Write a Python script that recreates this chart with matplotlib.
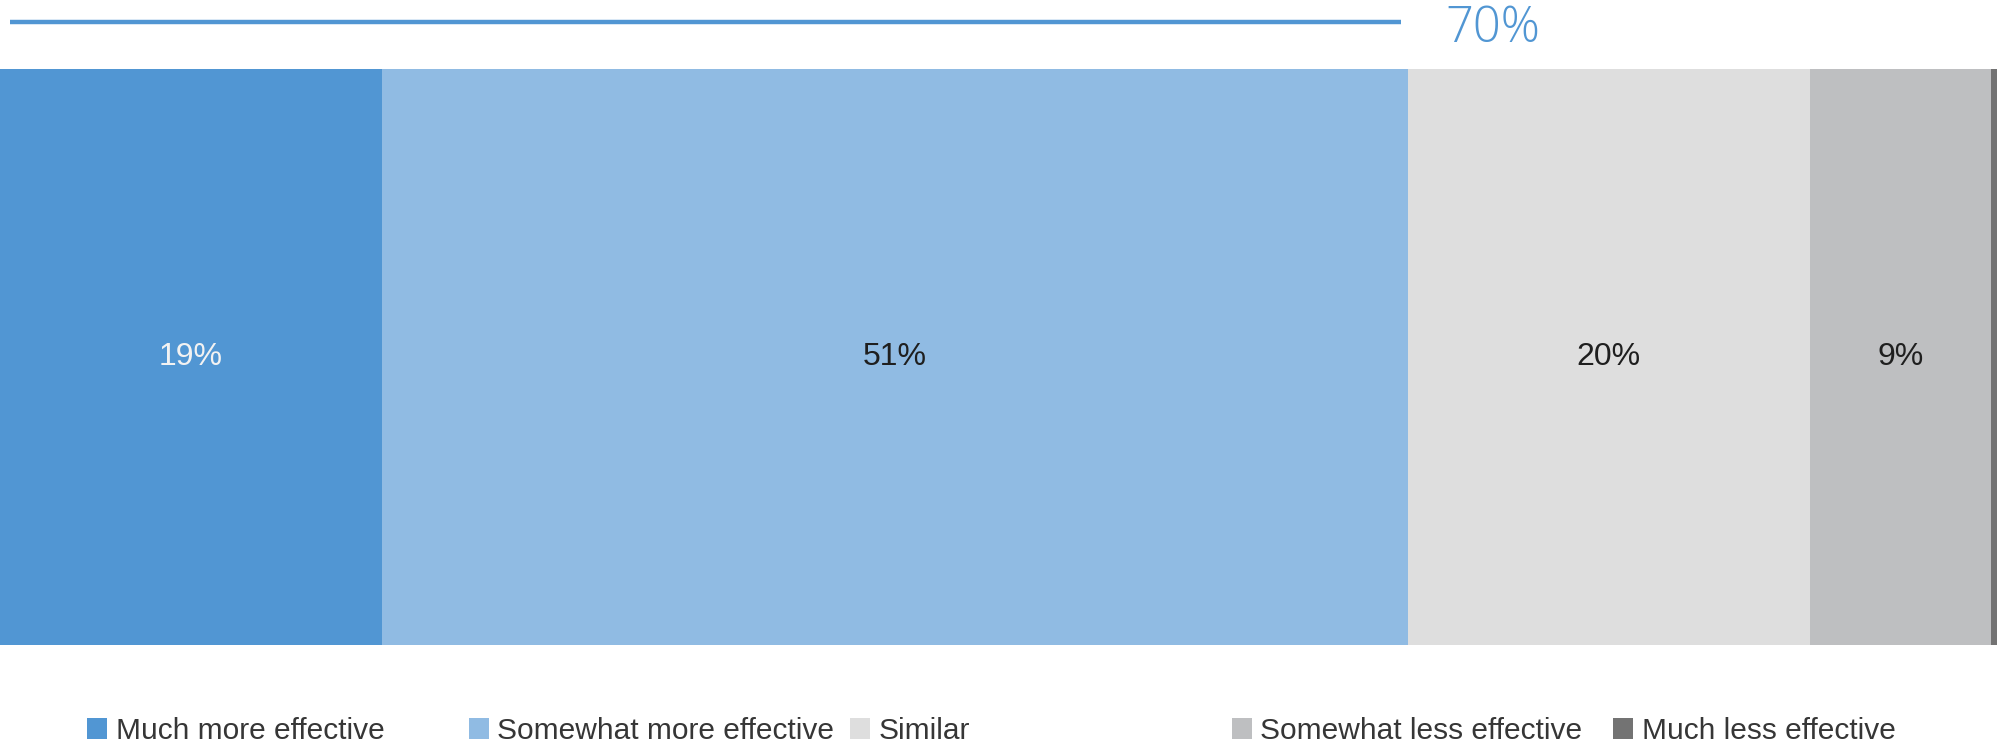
import matplotlib
matplotlib.use("Agg")
import matplotlib.pyplot as plt
from matplotlib.patches import Patch
from matplotlib.transforms import blended_transform_factory

# Survey responses (share of respondents, %)
categories = [
    "Much more effective",
    "Somewhat more effective",
    "Similar",
    "Somewhat less effective",
    "Much less effective",
]
values = [19, 51, 20, 9, 1]
value_labels = ["19%", "51%", "20%", "9%", ""]
colors = ["#5196d3", "#90bbe3", "#dedede", "#bebfc1", "#737373"]
label_colors = ["#f2f2f2", "#1f1f1f", "#1f1f1f", "#1f1f1f", "#1f1f1f"]

W, H = 1997, 745
fig = plt.figure(figsize=(W / 100, H / 100), dpi=100)
ax = fig.add_axes([0, (H - 645) / H, 1, 576 / H])

left = 0
for val, col, lab, lcol in zip(values, colors, value_labels, label_colors):
    ax.barh(0, val, left=left, height=1.0, color=col, edgecolor="none")
    if lab:
        ax.text(left + val / 2, 0, lab, ha="center", va="center",
                fontsize=23, color=lcol, family="Liberation Sans")
    left += val

ax.set_xlim(0, 99.3)
ax.set_ylim(-0.5, 0.5)
ax.axis("off")

# Bracket line showing the combined "more effective" share
more_total = values[0] + values[1]
trans = blended_transform_factory(ax.transData, fig.transFigure)
ax.plot([0.5, more_total - 0.35], [1 - 21.5 / H, 1 - 21.5 / H], color="#5196d3",
        lw=3.2, solid_capstyle="butt", transform=trans, clip_on=False)
ax.text(more_total + 1.85, 1 - 41.5 / H, f"{more_total}%", transform=trans,
        ha="left", va="baseline", fontsize=35, color="#5196d3",
        family="Open Sans", weight="light", clip_on=False)

# Legend: one evenly spaced entry per category
for i, (cat, col) in enumerate(zip(categories, colors)):
    x0 = (87 + 381.5 * i) / W
    fig.legend(handles=[Patch(facecolor=col, edgecolor="none")], labels=[cat],
               loc="center left", bbox_to_anchor=(x0, 1 - 731 / H),
               frameon=False, borderpad=0, borderaxespad=0,
               handlelength=0.67, handleheight=0.67, handletextpad=0.3,
               prop={"family": "Liberation Sans", "size": 21.5},
               labelcolor="#363636")

fig.savefig("out.png", dpi=100, facecolor="white")
